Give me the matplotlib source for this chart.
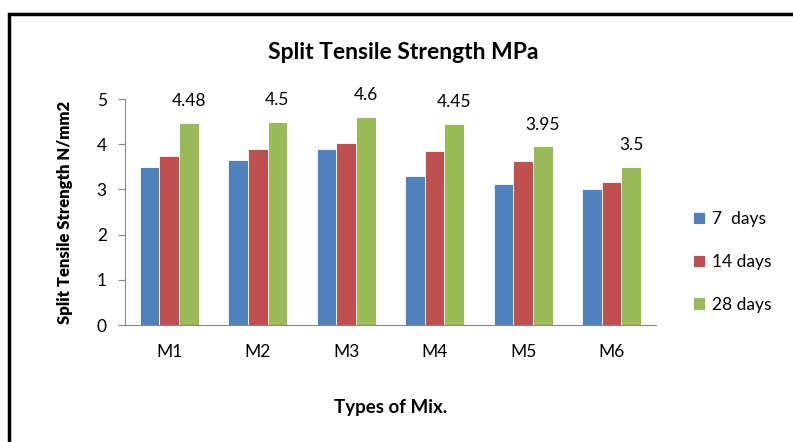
import matplotlib.pyplot as plt
import numpy as np
from matplotlib.patches import Rectangle

mixes = ["M1", "M2", "M3", "M4", "M5", "M6"]
series_names = ["7  days", "14 days", "28 days"]
days_7 = [3.5, 3.65, 3.9, 3.3, 3.12, 3.0]
days_14 = [3.75, 3.9, 4.02, 3.85, 3.62, 3.16]
days_28 = [4.48, 4.5, 4.6, 4.45, 3.95, 3.5]
colors = ["#4f81bd", "#c0504d", "#9bbb59"]

plt.rcParams["font.family"] = ["Lato", "DejaVu Sans"]

fig = plt.figure(figsize=(7.93, 4.42), dpi=100)
ax = fig.add_axes([0.1576, 0.2647, 0.6694, 0.5113])

x = np.arange(len(mixes))
width = 0.222
for i, (vals, name) in enumerate(zip([days_7, days_14, days_28], series_names)):
    ax.bar(x + (i - 1) * width, vals, width, color=colors[i], label=name,
           edgecolor="white", linewidth=0.6)

# values printed above the 28-day bars
for xi, v in zip(x, days_28):
    ax.annotate(f"{v:g}", (xi + width, v), xytext=(0, 10), textcoords="offset points",
                ha="center", va="bottom", fontsize=12.5)

ax.set_xlim(-0.5, len(mixes) - 0.5)
ax.set_ylim(0, 5)
ax.set_yticks(range(6))
ax.set_xticks(x)
ax.set_xticklabels(mixes)
ax.tick_params(axis="y", length=5, color="#868686", labelsize=12.5, pad=8)
ax.tick_params(axis="x", length=0, labelsize=12.5, pad=14)
for side in ["top", "right"]:
    ax.spines[side].set_visible(False)
for side in ["left", "bottom"]:
    ax.spines[side].set_color("#868686")

ax.set_title("Split Tensile Strength MPa", fontsize=16.5, fontweight="bold", pad=29, x=0.525)
ax.set_xlabel("Types of Mix.", fontsize=13.5, fontweight="bold", labelpad=28)
ax.set_ylabel("Split Tensile Strength N/mm2", fontsize=12, fontweight="heavy", labelpad=17)

ax.legend(loc="center left", bbox_to_anchor=(1.04, 0.28), frameon=False, fontsize=12.5,
          handlelength=0.7, handleheight=0.7, labelspacing=1.55, handletextpad=0.4)

# outer frame
fig.patches.append(Rectangle((0.011, -0.05), 1.05, 1.018, transform=fig.transFigure,
                             fill=False, edgecolor="black", linewidth=2.5))

fig.savefig("out.png", dpi=100)
